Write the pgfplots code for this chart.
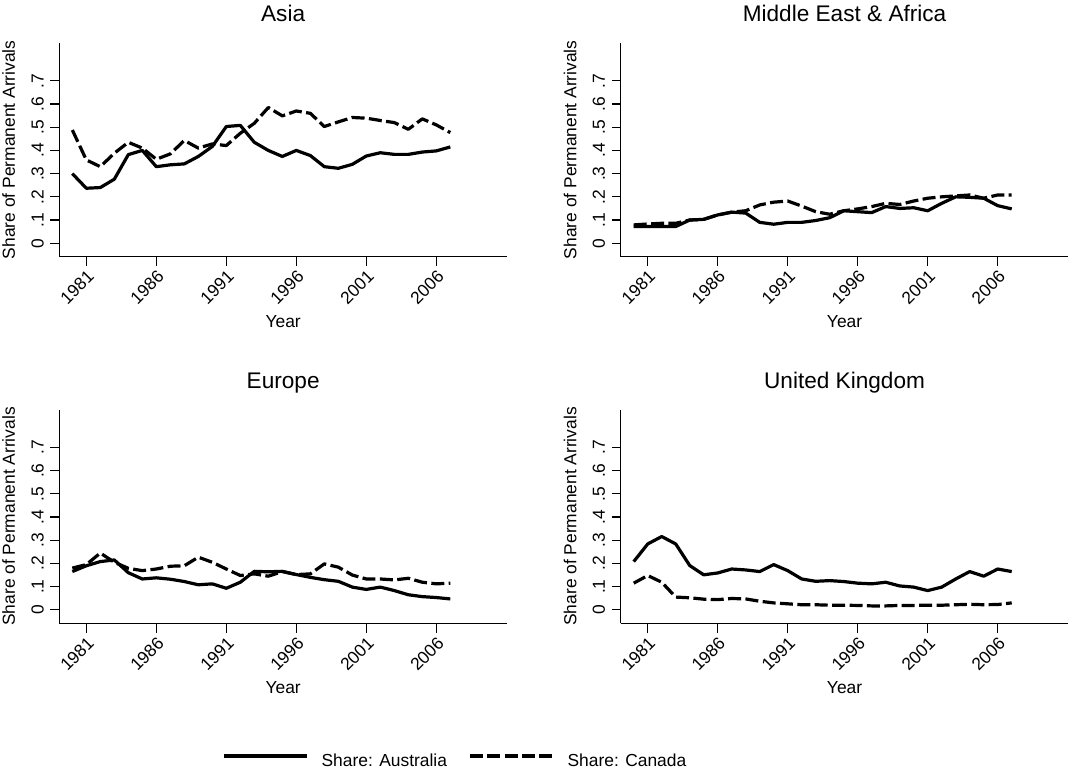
\documentclass[border=0pt]{standalone}
\usepackage{fontspec}
\setmainfont{Liberation Sans}
\usepackage{pgfplots}
\pgfplotsset{compat=1.18}
\newcommand{\lbl}{\fontsize{8.7pt}{10pt}\selectfont}
\newcommand{\tck}{\fontsize{8.7pt}{10pt}\selectfont}
\newcommand{\ttl}{\fontsize{11.3pt}{13pt}\selectfont}
\pgfplotsset{
  panel/.style={
    scale only axis, width=223.85pt, height=106.85pt,
    xmin=1979.07, xmax=2011.05, ymin=-0.058, ymax=0.863,
    axis x line*=bottom, axis y line*=left,
    axis line style={line width=0.65pt, black},
    tick align=outside, major tick length=4.6pt,
    tick style={line width=0.65pt, black},
    xtick={1981,1986,1991,1996,2001,2006},
    xticklabels={1981,1986,1991,1996,2001,2006},
    ytick={0,0.1,0.2,0.3,0.4,0.5,0.6,0.7},
    yticklabels={0,.1,.2,.3,.4,.5,.6,.7},
    xticklabel style={rotate=45, anchor=north east, inner sep=1pt, font=\tck},
    yticklabel style={rotate=90, anchor=base, inner sep=0pt, font=\tck},
    yticklabel shift=3.3pt,
    xlabel={Year}, ylabel={Share of Permanent Arrivals},
    xlabel style={at={(axis description cs:0.5,0)}, anchor=base, yshift=-35.15pt, font=\lbl, inner sep=0pt},
    ylabel style={at={(axis description cs:-0.099,0.5)}, anchor=base, rotate=0, font=\lbl, inner sep=0pt},
    title style={at={(axis description cs:0.5,1)}, anchor=base, yshift=4.6pt, font=\ttl, inner sep=0pt},
  },
  aus/.style={black, line width=1.6pt, line join=round},
  can/.style={black, line width=1.6pt, line join=round, dash pattern=on 6.5pt off 2.2pt},
}
\begin{document}
\begin{tikzpicture}
\path[use as bounding box] (0,0) rectangle (537.5pt,386pt);
% Asia
\begin{axis}[panel, at={(29.65pt,257.65pt)}, anchor=south west, title={Asia}]
\addplot[aus] table {
x y
1980 0.300
1981 0.237
1982 0.240
1983 0.276
1984 0.382
1985 0.400
1986 0.330
1987 0.338
1988 0.342
1989 0.374
1990 0.417
1991 0.503
1992 0.508
1993 0.435
1994 0.400
1995 0.374
1996 0.400
1997 0.378
1998 0.330
1999 0.323
2000 0.340
2001 0.376
2002 0.390
2003 0.383
2004 0.383
2005 0.393
2006 0.398
2007 0.415
};
\addplot[can] table {
x y
1980 0.488
1981 0.359
1982 0.330
1983 0.388
1984 0.435
1985 0.410
1986 0.362
1987 0.385
1988 0.443
1989 0.410
1990 0.428
1991 0.421
1992 0.474
1993 0.517
1994 0.585
1995 0.549
1996 0.570
1997 0.560
1998 0.503
1999 0.523
2000 0.542
2001 0.539
2002 0.529
2003 0.520
2004 0.491
2005 0.536
2006 0.510
2007 0.477
};
\end{axis}
% Middle East & Africa
\begin{axis}[panel, at={(310.35pt,257.65pt)}, anchor=south west, title={Middle East \& Africa}]
\addplot[aus] table {
x y
1980 0.072
1981 0.072
1982 0.072
1983 0.072
1984 0.100
1985 0.103
1986 0.122
1987 0.134
1988 0.130
1989 0.090
1990 0.082
1991 0.090
1992 0.090
1993 0.098
1994 0.110
1995 0.140
1996 0.136
1997 0.132
1998 0.158
1999 0.150
2000 0.153
2001 0.140
2002 0.172
2003 0.200
2004 0.198
2005 0.194
2006 0.162
2007 0.148
};
\addplot[can] table {
x y
1980 0.079
1981 0.083
1982 0.086
1983 0.086
1984 0.100
1985 0.103
1986 0.122
1987 0.134
1988 0.140
1989 0.165
1990 0.177
1991 0.182
1992 0.160
1993 0.136
1994 0.125
1995 0.140
1996 0.148
1997 0.158
1998 0.172
1999 0.167
2000 0.182
2001 0.194
2002 0.200
2003 0.204
2004 0.208
2005 0.194
2006 0.208
2007 0.208
};
\end{axis}
% Europe
\begin{axis}[panel, at={(29.65pt,74.35pt)}, anchor=south west, title={Europe},
  legend columns=2,
  legend style={at={(axis description cs:0.3634,-0.649)}, anchor=west, draw=none, fill=none,
    inner sep=0pt, outer sep=0pt, font=\lbl, nodes={inner sep=0pt},
    /tikz/every odd column/.append style={column sep=6.5pt},
    /tikz/every even column/.append style={column sep=10.5pt}},
  legend image code/.code={\draw[#1, line width=1.8pt] (0pt,3pt) -- (41.5pt,3pt);},
]
\addplot[aus] table {
x y
1980 0.165
1981 0.190
1982 0.208
1983 0.215
1984 0.160
1985 0.133
1986 0.138
1987 0.132
1988 0.122
1989 0.108
1990 0.112
1991 0.093
1992 0.119
1993 0.166
1994 0.164
1995 0.166
1996 0.152
1997 0.140
1998 0.130
1999 0.123
2000 0.098
2001 0.088
2002 0.098
2003 0.083
2004 0.065
2005 0.057
2006 0.053
2007 0.047
};
\addlegendentry{Share: Australia}
\addplot[can] table {
x y
1980 0.180
1981 0.195
1982 0.245
1983 0.205
1984 0.179
1985 0.169
1986 0.176
1987 0.188
1988 0.190
1989 0.227
1990 0.205
1991 0.176
1992 0.148
1993 0.155
1994 0.145
1995 0.165
1996 0.152
1997 0.155
1998 0.198
1999 0.184
2000 0.150
2001 0.133
2002 0.133
2003 0.129
2004 0.136
2005 0.119
2006 0.112
2007 0.115
};
\addlegendentry{Share: Canada}
\end{axis}
% United Kingdom
\begin{axis}[panel, at={(310.35pt,74.35pt)}, anchor=south west, title={United Kingdom}]
\addplot[aus] table {
x y
1980 0.208
1981 0.284
1982 0.316
1983 0.284
1984 0.191
1985 0.151
1986 0.159
1987 0.176
1988 0.172
1989 0.165
1990 0.195
1991 0.169
1992 0.133
1993 0.123
1994 0.126
1995 0.122
1996 0.115
1997 0.112
1998 0.119
1999 0.103
2000 0.098
2001 0.083
2002 0.098
2003 0.133
2004 0.165
2005 0.145
2006 0.176
2007 0.165
};
\addplot[can] table {
x y
1980 0.115
1981 0.148
1982 0.119
1983 0.055
1984 0.052
1985 0.046
1986 0.044
1987 0.049
1988 0.047
1989 0.037
1990 0.030
1991 0.026
1992 0.022
1993 0.022
1994 0.020
1995 0.020
1996 0.019
1997 0.017
1998 0.017
1999 0.019
2000 0.019
2001 0.020
2002 0.020
2003 0.022
2004 0.024
2005 0.022
2006 0.023
2007 0.030
};
\end{axis}
\end{tikzpicture}
\end{document}
